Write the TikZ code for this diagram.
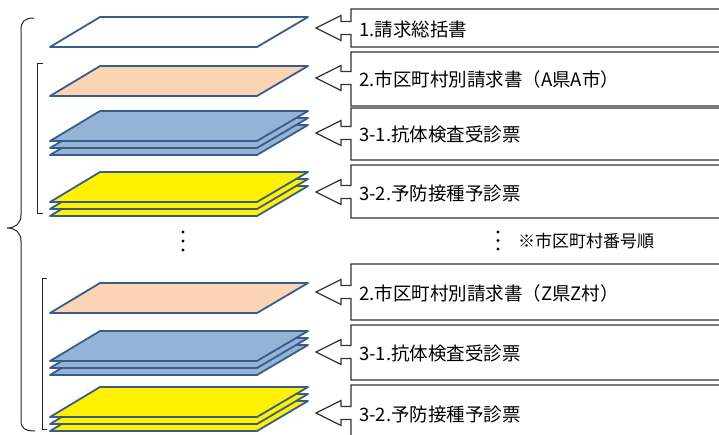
\documentclass[tikz,border=0pt]{standalone}
\usepackage{fontspec}
\newfontfamily\jp{Noto Sans CJK JP}
\definecolor{edge}{HTML}{385D8A}
\definecolor{peach}{HTML}{FBD4B4}
\definecolor{paleblue}{HTML}{95B3D7}

\begin{document}
\begin{tikzpicture}[x=1pt,y=-1pt,
  sheet/.style={draw=edge, line width=1.8pt, line join=round},
  calloutbox/.style={draw=black!80, fill=white, line width=1.2pt},
  boxtext/.style={anchor=west, inner sep=0pt, font=\jp\fontsize{18.5}{20}\selectfont},
  bracket/.style={draw=black!85, line width=1pt}]
\useasboundingbox (0,0) rectangle (719,434);
\fill [white] (0,0) rectangle (719,434);
\clip (0,0) rectangle (719,434);

% single sheets
\foreach \yb/\col in {47/white, 96/peach, 313/peach}
  \draw [sheet, fill=\col] (50,\yb) -- (257,\yb) -- (308,\yb-30) -- (100,\yb-30) -- cycle;

% stacks of three
\foreach \yb/\col in {141/paleblue, 202/yellow, 361/paleblue, 417/yellow}
  \foreach \d in {14,7,0}
    \draw [sheet, fill=\col] (50,\yb+\d) -- (257,\yb+\d) -- (308,\yb+\d-30) -- (100,\yb+\d-30) -- cycle;

% callouts with texts
\foreach \n/\t/\b/\m/\txt in {1/9/47/28/1.請求総括書,
    2/52/106/78/2.市区町村別請求書（A県A市）,
    3/108/160/133/3-1.抗体検査受診票,
    4/165/218/192/3-2.予防接種予診票,
    5/264/320/292/2.市区町村別請求書（Z県Z村）,
    6/325/380/352/3-1.抗体検査受診票,
    7/385/445/413/3-2.予防接種予診票}
{
  \draw [calloutbox] (730,\t) -- (351,\t) -- (351,\m-6.5) -- (341,\m-6.5) -- (341,\m-12.5) -- (316,\m)
    -- (341,\m+12.5) -- (341,\m+6.5) -- (351,\m+6.5) -- (351,\b) -- (730,\b) -- cycle;
  \node [boxtext] (t\n) at (359,\m+1) {\txt};
}

% dots and note
\foreach \k in {0,1,2} {
  \fill (183,232+9*\k) circle (1.6);
  \fill (498,232+8.5*\k) circle (1.6);
}
\node [boxtext, font=\jp\fontsize{17}{19}\selectfont] (note) at (518,241) {※市区町村番号順};

% brace and brackets
\draw [bracket] (34,18) .. controls (25,18) and (21,21) .. (21,30) -- (21,215)
  .. controls (21,224) and (15,228) .. (7,228) .. controls (15,228) and (21,232) .. (21,241)
  -- (21,421) .. controls (21,428) and (25,431) .. (35,431);
\draw [bracket] (43,63) -- (37,63) -- (37,213) -- (43,213);
\draw [bracket] (47,278) -- (42,278) -- (42,429) -- (47,429);
\end{tikzpicture}
\end{document}
